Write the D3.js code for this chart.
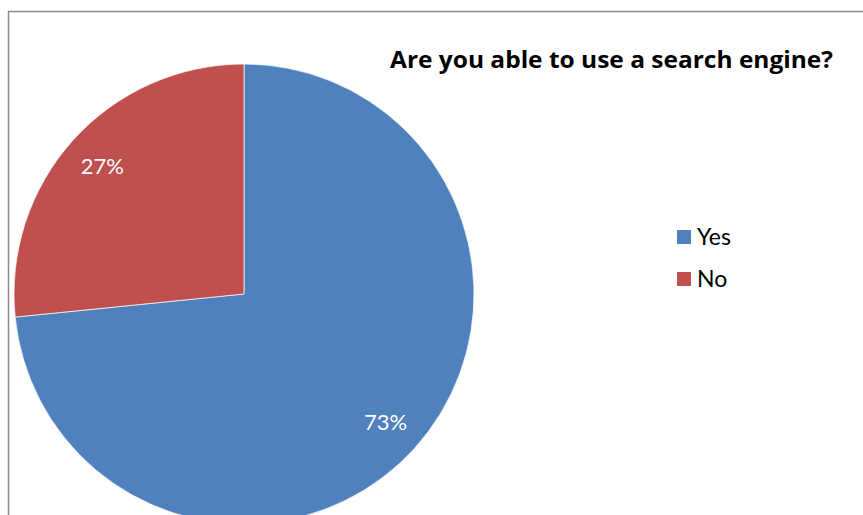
<!DOCTYPE html>
<html><head><meta charset="utf-8">
<script src="https://cdn.jsdelivr.net/npm/d3@7/dist/d3.min.js"></script>
<style>body{margin:0;background:#fff}svg{display:block}</style>
</head><body>
<svg id="c" width="863" height="515"></svg>
<script>
const categories = ["Yes", "No"];
const values = [73.4, 26.6];
const labels = ["73%", "27%"];
const colors = ["#4F81BD", "#C0504D"];
const title = "Are you able to use a search engine?";

const svg = d3.select("#c");
svg.append("rect").attr("x", 8.5).attr("y", 11.5).attr("width", 900).attr("height", 600)
  .attr("fill", "#fff").attr("stroke", "#8c8c8c").attr("stroke-width", 1.5);

const cx = 244, cy = 294, r = 230;
const data = categories.map((c, i) => ({cat: c, value: values[i], label: labels[i], color: colors[i]}));
const pie = d3.pie().value(d => d.value).sort(null);
const arc = d3.arc().innerRadius(0).outerRadius(r);
const g = svg.append("g").attr("transform", `translate(${cx},${cy})`);
const arcs = pie(data);
g.selectAll("path").data(arcs).enter().append("path")
  .attr("d", arc).attr("fill", d => d.data.color)
  .attr("stroke", "#fff").attr("stroke-width", 0.7);

const labelArc = d3.arc().innerRadius(r * 0.83).outerRadius(r * 0.83);
g.selectAll("text.lbl").data(arcs).enter().append("text")
  .attr("class", "lbl")
  .attr("transform", d => { const p = labelArc.centroid(d); return `translate(${p[0]},${p[1]})`; })
  .attr("text-anchor", "middle").attr("dy", "0.36em")
  .attr("fill", "#fff").attr("font-family", "Lato, 'Open Sans', sans-serif").attr("font-size", 22)
  .text(d => d.data.label);

svg.append("text").attr("x", 390).attr("y", 68)
  .attr("font-family", "'Open Sans', Lato, sans-serif").attr("font-weight", "bold")
  .attr("font-size", 24).attr("textLength", 443).attr("lengthAdjust", "spacingAndGlyphs")
  .attr("fill", "#000").text(title);

const leg = svg.append("g").selectAll("g").data(data).enter().append("g")
  .attr("transform", (d, i) => `translate(677,${230 + i * 42})`);
leg.append("rect").attr("width", 14).attr("height", 14).attr("fill", d => d.color);
leg.append("text").attr("x", 20).attr("y", 15)
  .attr("font-family", "Lato, 'Open Sans', sans-serif").attr("font-size", 23).attr("fill", "#000")
  .text(d => d.cat);
</script>
</body></html>
